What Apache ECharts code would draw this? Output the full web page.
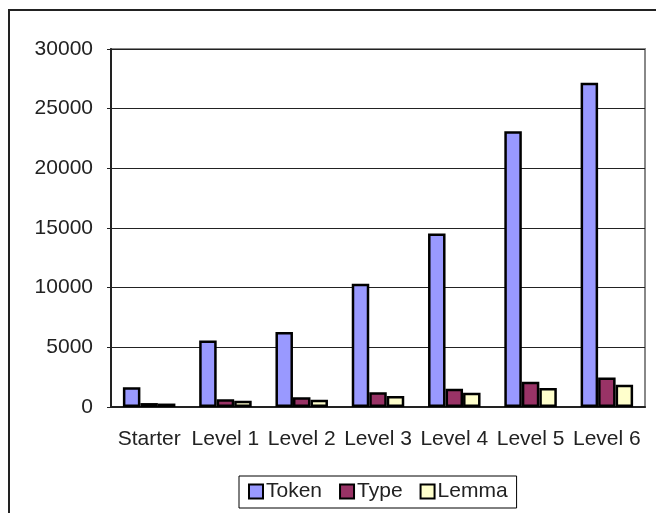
<!DOCTYPE html>
<html lang="en">

<head>
    <meta charset="UTF-8">
    <title>token type lemma</title>
    <script type="text/javascript" src="https://cdn.jsdelivr.net/npm/echarts@6/dist/echarts.min.js"></script>
    <style>
        body { margin: 0; background: #fff; }
    </style>
</head>

<body>
    <div id="main" style="width: 656px;height:513px;"></div>
    <script type="text/javascript">
    let myChart = echarts.init(document.getElementById('main'));

    // categories and values
    let levels = ['Starter', 'Level 1', 'Level 2', 'Level 3', 'Level 4', 'Level 5', 'Level 6'];
    let token = [1650, 5580, 6280, 10330, 14530, 23100, 27180];
    let type = [330, 640, 810, 1230, 1520, 2120, 2480];
    let lemma = [290, 530, 600, 920, 1200, 1600, 1870];
    let yTicks = [0, 5000, 10000, 15000, 20000, 25000, 30000];

    let font = '"Liberation Sans", Arial, sans-serif';

    function barSeries(name, data, color) {
        return {
            name: name,
            type: 'bar',
            data: data,
            barWidth: 17.5,
            barGap: '0%',
            itemStyle: {
                color: color,
                borderColor: '#000',
                borderWidth: 2.5
            }
        };
    }

    let option = {
        animation: false,
        backgroundColor: '#fff',
        textStyle: { fontFamily: font },
        graphic: [{
            type: 'rect',
            shape: { x: 9, y: 10, width: 700, height: 600 },
            style: { fill: 'none', stroke: '#222', lineWidth: 2 },
            z: 100
        }],
        grid: {
            left: 111,
            right: 11,
            top: 49,
            bottom: 106,
            show: true,
            borderColor: '#888',
            borderWidth: 2,
            backgroundColor: '#fff'
        },
        legend: {
            left: 239,
            top: 476,
            padding: [5, 9, 6, 9],
            itemWidth: 14,
            itemHeight: 14,
            itemGap: 17,
            icon: 'rect',
            borderColor: '#000',
            borderWidth: 1,
            backgroundColor: '#fff',
            itemStyle: { borderColor: '#000', borderWidth: 2 },
            textStyle: { fontSize: 21, color: '#222', fontFamily: font, padding: [0, 0, 0, -2] },
            data: ['Token', 'Type', 'Lemma']
        },
        xAxis: {
            type: 'category',
            data: levels,
            boundaryGap: true,
            axisLine: { lineStyle: { color: '#222', width: 2 } },
            axisTick: { inside: true, length: 7, lineStyle: { color: '#222', width: 1 } },
            axisLabel: { fontSize: 21, color: '#222', margin: 22, interval: 0 }
        },
        yAxis: {
            type: 'value',
            min: yTicks[0],
            max: yTicks[yTicks.length - 1],
            interval: yTicks[1] - yTicks[0],
            axisLine: { show: true, lineStyle: { color: '#222', width: 2 } },
            axisTick: { show: true, length: 4, lineStyle: { color: '#222' } },
            axisLabel: {
                fontSize: 21,
                color: '#222',
                margin: 18,
                formatter: function(v) { return String(v); }
            },
            splitLine: { lineStyle: { color: '#222', width: 1 } }
        },
        series: [
            barSeries('Token', token, '#9999ff'),
            barSeries('Type', type, '#993366'),
            barSeries('Lemma', lemma, '#ffffcc')
        ]
    };

    myChart.setOption(option);
    </script>
</body>

</html>
